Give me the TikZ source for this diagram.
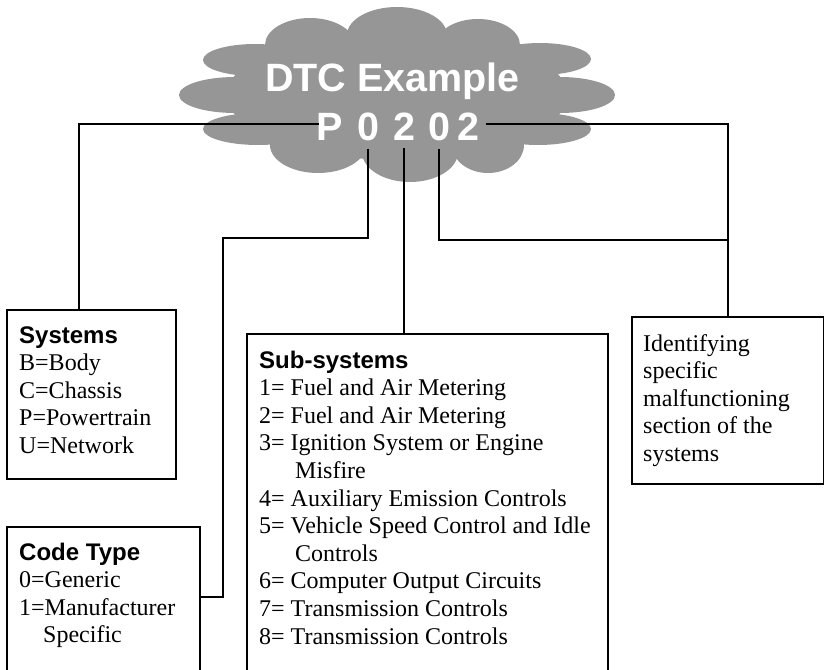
\documentclass[tikz,border=0pt]{standalone}
\usepackage{fontspec}
\setmainfont{Liberation Serif}
\setsansfont{Liberation Sans}
\definecolor{cloudgray}{HTML}{969696}
\tikzset{
  box/.style={draw, line width=1.5pt, inner sep=0pt, anchor=north west},
  conn/.style={line width=1.6pt},
  txt/.style={anchor=base west, inner sep=0pt, font=\fontsize{24}{27.6}\selectfont},
  head/.style={anchor=base west, inner sep=0pt, font=\sffamily\bfseries\fontsize{24}{27.6}\selectfont},
  ttl/.style={anchor=base, inner sep=0pt, text=white, font=\sffamily\bfseries\fontsize{39.5}{44}\selectfont},
  puff/.style={fill=cloudgray}
}
\begin{document}
\begin{tikzpicture}[x=1pt,y=-1pt]
\clip (0,0) rectangle (824,669);
% cloud
\fill[puff] (397,95) ellipse [x radius=170pt, y radius=65pt];
\fill[puff] (310,45) ellipse [x radius=45pt, y radius=27pt];
\fill[puff] (397,35) ellipse [x radius=50pt, y radius=28pt];
\fill[puff] (478,45) ellipse [x radius=42pt, y radius=26pt];
\fill[puff] (318,145) ellipse [x radius=48pt, y radius=28pt];
\fill[puff] (410,152) ellipse [x radius=48pt, y radius=30pt];
\fill[puff] (488,145) ellipse [x radius=36pt, y radius=28pt];
\fill[puff] (255,60) ellipse [x radius=52pt, y radius=16pt];
\fill[puff] (235,95) ellipse [x radius=56pt, y radius=18pt];
\fill[puff] (258,129) ellipse [x radius=55pt, y radius=16pt];
\fill[puff] (540,59) ellipse [x radius=51pt, y radius=16pt];
\fill[puff] (560,95) ellipse [x radius=55pt, y radius=18pt];
\fill[puff] (538,129) ellipse [x radius=53pt, y radius=16pt];
% title
\node[ttl] (title) at (392.5,92) {DTC Example};
\node[ttl] (dP) at (330,140) {P};
\node[ttl] (d1) at (368,140) {0};
\node[ttl] (d2) at (404,140) {2};
\node[ttl] (d3) at (439,140) {0};
\node[ttl] (d4) at (468,140) {2};
% boxes
\node[box, minimum width=169pt, minimum height=169pt] (sys) at (6,309) {};
\node[box, minimum width=193pt, minimum height=180pt] (code) at (6,526) {};
\node[box, minimum width=361pt, minimum height=360pt] (sub) at (246,333) {};
\node[box, minimum width=192pt, minimum height=167pt] (rbox) at (631,316) {};
% connectors
\coordinate (hL) at (319,124);
\coordinate (hR) at (486,124);
\coordinate (k1) at (222.7,238);
\coordinate (k3) at (727,240);
\draw[conn] (hL) -| ([xshift=73pt]sys.north west);
\draw[conn] ([yshift=-8pt]d1.south) |- (k1) |- ([yshift=-71pt]code.north east);
\draw[conn] ([yshift=-8pt]d2.south) -- (d2.south |- sub.north);
\draw[conn] (hR) -| (rbox.north);
\draw[conn] ([yshift=-8pt]d3.south) |- (k3);
% texts
\node[head] (sysH) at (19,343) {Systems};
\foreach \t [count=\i] in {B=Body, C=Chassis, P=Powertrain, U=Network}
  \node[txt] (sys\i) at (19,343+27.6*\i) {\t};
\node[head] (codeH) at (19,560) {Code Type};
\foreach \x/\t [count=\i] in {19/0=Generic, 19/1=Manufacturer, 43/Specific}
  \node[txt] (code\i) at (\x,560+27.6*\i) {\t};
\node[head] (subH) at (259,368) {Sub-systems};
\foreach \x/\t [count=\i] in {259/1= Fuel and Air Metering, 259/2= Fuel and Air Metering, 259/3= Ignition System or Engine, 295/Misfire, 259/4= Auxiliary Emission Controls, 259/5= Vehicle Speed Control and Idle, 295/Controls, 259/6= Computer Output Circuits, 259/7= Transmission Controls, 259/8= Transmission Controls}
  \node[txt] (sub\i) at (\x,368+27.6*\i) {\t};
\foreach \t [count=\i] in {Identifying, specific, malfunctioning, section of the, systems}
  \node[txt] (r\i) at (643,323.4+27.6*\i) {\t};
\end{tikzpicture}
\end{document}
